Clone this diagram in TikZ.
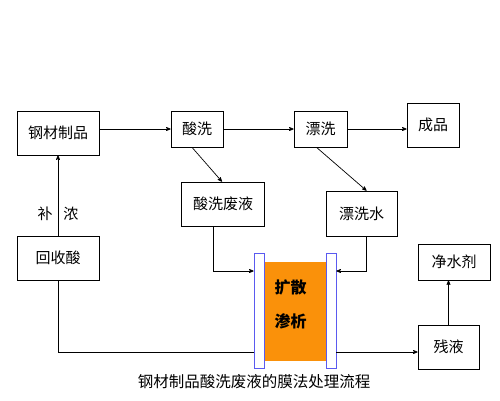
\documentclass[tikz,border=0pt]{standalone}
\usepackage{fontspec}
\setmainfont{Noto Sans CJK SC}
\usepackage{tikz}
\usetikzlibrary{shapes, arrows, positioning}
\definecolor{diforange}{RGB}{250,145,10}
\definecolor{barblue}{RGB}{90,90,240}

\begin{document}
\begin{tikzpicture}[x=1pt, y=-1pt, ->, >=stealth', line width=0.7pt, font=\fontsize{15}{17}\selectfont,
    box/.style={draw, rectangle, inner sep=0pt, line width=0.7pt}]
    \useasboundingbox (0,0) rectangle (500,400);

    \node[box, minimum width=82pt, minimum height=44pt] (SteelGoods) at (58,133)    {钢材制品};
    \node[box, minimum width=52pt, minimum height=36pt] (Pickling)   at (197,129)   {酸洗};
    \node[box, minimum width=53pt, minimum height=36pt] (Rinsing)    at (320.5,129) {漂洗};
    \node[box, minimum width=52pt, minimum height=44pt] (Product)    at (433,125)   {成品};
    \node[box, minimum width=83pt, minimum height=44pt] (WasteAcid)  at (223,204)   {酸洗废液};
    \node[box, minimum width=71pt, minimum height=45pt] (RinseWater) at (361.5,213.5) {漂洗水};
    \node[box, minimum width=82pt, minimum height=44pt] (RecAcid)    at (58,258)    {回收酸};
    \node[box, minimum width=72pt, minimum height=36pt] (Purifier)   at (454,262)   {净水剂};
    \node[box, minimum width=61pt, minimum height=44pt] (Residue)    at (448.5,347) {残液};

    % dialysis cell
    \node[rectangle, fill=diforange, minimum width=61pt, minimum height=99pt] (Cell) at (295.5,311.5) {};
    \node[box, draw=barblue, fill=white, minimum width=10pt, minimum height=115pt] (LeftBar)  at (259,310.5) {};
    \node[box, draw=barblue, fill=white, minimum width=10pt, minimum height=115pt] (RightBar) at (331,310.5) {};
    \node[anchor=west, font=\fontsize{16}{18}\selectfont\bfseries] (Diff) at (271,287) {扩散};
    \node[anchor=west, font=\fontsize{16}{18}\selectfont\bfseries] (Dial) at (271,321) {渗析};

    \coordinate (Mid) at (0,271);
    \coordinate (Low) at (0,352);

    \path
    (SteelGoods.east |- Pickling) edge (Pickling.west)
    (Pickling) edge (Rinsing)
    (Rinsing.east) edge (Product.west |- Rinsing)
    ([xshift=-5pt]Pickling.south) edge ([xshift=-1pt]WasteAcid.north)
    ([xshift=-4pt]Rinsing.south) edge ([xshift=5pt]RinseWater.north)
    (RecAcid) edge node[inner sep=1pt, pos=0.27] {补\hspace{11pt}浓} (SteelGoods)
    (Residue) edge (Purifier.south -| Residue);

    \draw ([xshift=-10pt]WasteAcid.south) |- (LeftBar.west |- Mid);
    \draw ([xshift=5pt]RinseWater.south) |- (RightBar.east |- Mid);
    \draw[-] (RecAcid.south) |- (LeftBar.west |- Low);
    \draw (RightBar.east |- Low) -- (Residue.west |- Low);

    \node[font=\fontsize{15.5}{17}\selectfont] (Caption) at (254,382) {钢材制品酸洗废液的膜法处理流程};

\end{tikzpicture}
\end{document}
